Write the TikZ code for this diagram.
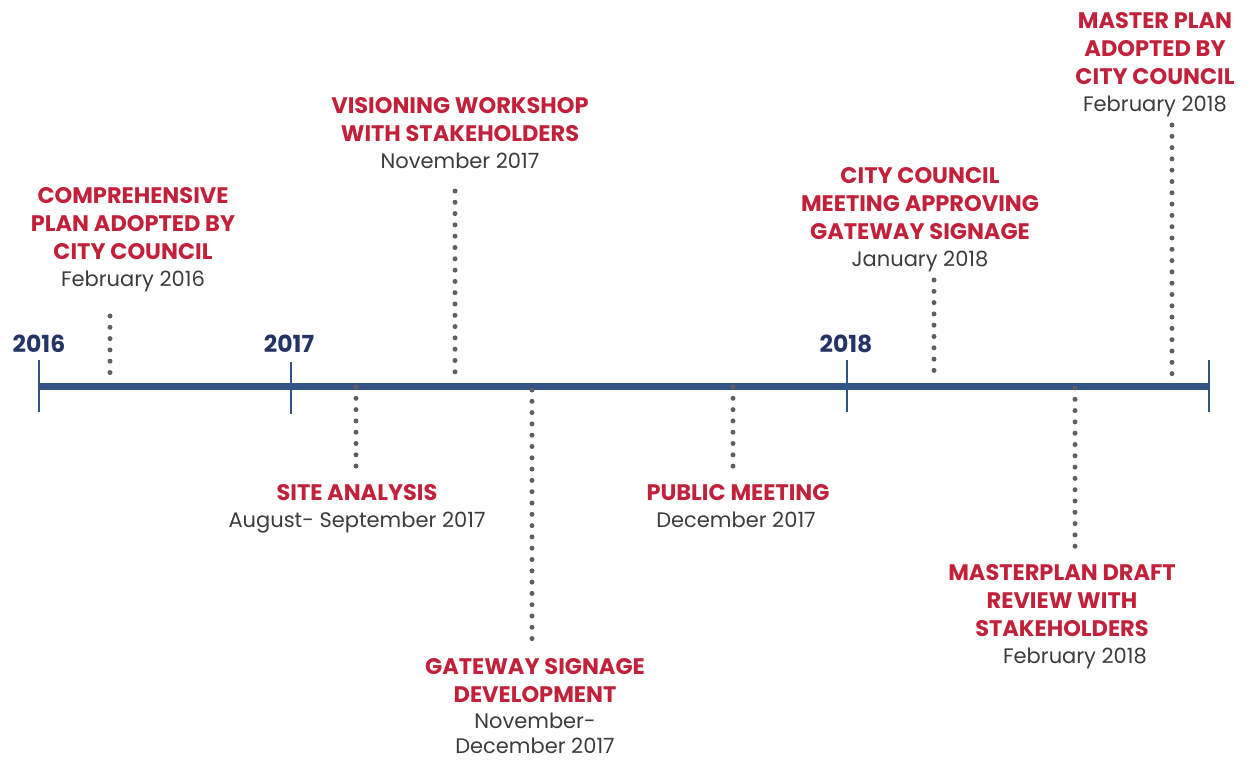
\documentclass[tikz,border=0pt]{standalone}
\usepackage{fontspec}
\setmainfont{Poppins}
\definecolor{evred}{HTML}{C1213A}
\definecolor{yearblue}{HTML}{253466}
\definecolor{axisblue}{HTML}{325487}
\definecolor{dotgrey}{HTML}{5F5F5F}
\definecolor{dategrey}{HTML}{3C3C3C}
\begin{document}
\begin{tikzpicture}[x=1pt,y=-1pt,
  title/.style={anchor=north,inner sep=0pt,align=center,text=evred,font=\fontsize{22.5}{28}\selectfont\bfseries},
  datelbl/.style={anchor=north,inner sep=0pt,align=center,text=dategrey,font=\fontsize{21}{25}\selectfont},
  yearlbl/.style={inner sep=0pt,text=yearblue,font=\fontsize{23.5}{25}\selectfont\bfseries},
  axisline/.style={draw=axisblue,line width=7pt},
  tick/.style={draw=axisblue,line width=2pt},
  dotline/.style={draw=dotgrey,line width=5pt,line cap=round,dash pattern=on 0pt off 11.3pt}]
\useasboundingbox (0,0) rectangle (1258,760);
% axis
\coordinate (a0) at (39,386);
\coordinate (a1) at (1209,386);
\draw[axisline] (a0) -- (a1);
\coordinate (t16a) at (39,360); \coordinate (t16b) at (39,412);
\coordinate (t17a) at (291,362); \coordinate (t17b) at (291,414);
\coordinate (t18a) at (847,360); \coordinate (t18b) at (847,412);
\coordinate (tEa) at (1209,360); \coordinate (tEb) at (1209,412);
\draw[tick] (t16a) -- (t16b);
\draw[tick] (t17a) -- (t17b);
\draw[tick] (t18a) -- (t18b);
\draw[tick] (tEa) -- (tEb);
\node[yearlbl] (y16) at (39,344) {2016};
\node[yearlbl] (y17) at (289,344) {2017};
\node[yearlbl] (y18) at (846,344) {2018};
% events above
\node[title] (e1) at (133,187) {COMPREHENSIVE\\PLAN ADOPTED BY\\CITY COUNCIL};
\node[datelbl] (e1d) at (133,271) {February 2016};
\coordinate (e1t) at (110,316); \coordinate (e1b) at (110,383);
\draw[dotline] (e1t) -- (e1b);

\node[title] (e2) at (460,97) {VISIONING WORKSHOP\\WITH STAKEHOLDERS};
\node[datelbl] (e2d) at (460,153) {November 2017};
\coordinate (e2t) at (455,191); \coordinate (e2b) at (455,381);
\draw[dotline] (e2t) -- (e2b);

\node[title] (e3) at (920,167) {CITY COUNCIL\\MEETING APPROVING\\GATEWAY SIGNAGE};
\node[datelbl] (e3d) at (920,251) {January 2018};
\coordinate (e3t) at (934,280); \coordinate (e3b) at (934,381);
\draw[dotline] (e3t) -- (e3b);

\node[title] (e4) at (1155,12) {MASTER PLAN\\ADOPTED BY\\CITY COUNCIL};
\node[datelbl] (e4d) at (1155,96) {February 2018};
\coordinate (e4t) at (1172,125); \coordinate (e4b) at (1172,384);
\draw[dotline] (e4t) -- (e4b);
% events below
\node[title] (e5) at (357,484) {SITE ANALYSIS};
\node[datelbl] (e5d) at (357,512) {August- September 2017};
\coordinate (e5t) at (356,387); \coordinate (e5b) at (356,471);
\draw[dotline] (e5t) -- (e5b);

\node[title] (e6) at (535,658) {GATEWAY SIGNAGE\\DEVELOPMENT};
\node[datelbl] (e6d) at (535,713) {November-\\December 2017};
\coordinate (e6t) at (532,390); \coordinate (e6b) at (532,648);
\draw[dotline] (e6t) -- (e6b);

\node[title] (e7) at (738,484) {PUBLIC MEETING};
\node[datelbl] (e7d) at (736,512) {December 2017};
\coordinate (e7t) at (733,387); \coordinate (e7b) at (733,471);
\draw[dotline] (e7t) -- (e7b);

\node[title] (e8) at (1062,564) {MASTERPLAN DRAFT\\REVIEW WITH\\STAKEHOLDERS};
\node[datelbl] (e8d) at (1075,648) {February 2018};
\coordinate (e8t) at (1075,388); \coordinate (e8b) at (1075,551);
\draw[dotline] (e8t) -- (e8b);
\end{tikzpicture}
\end{document}
